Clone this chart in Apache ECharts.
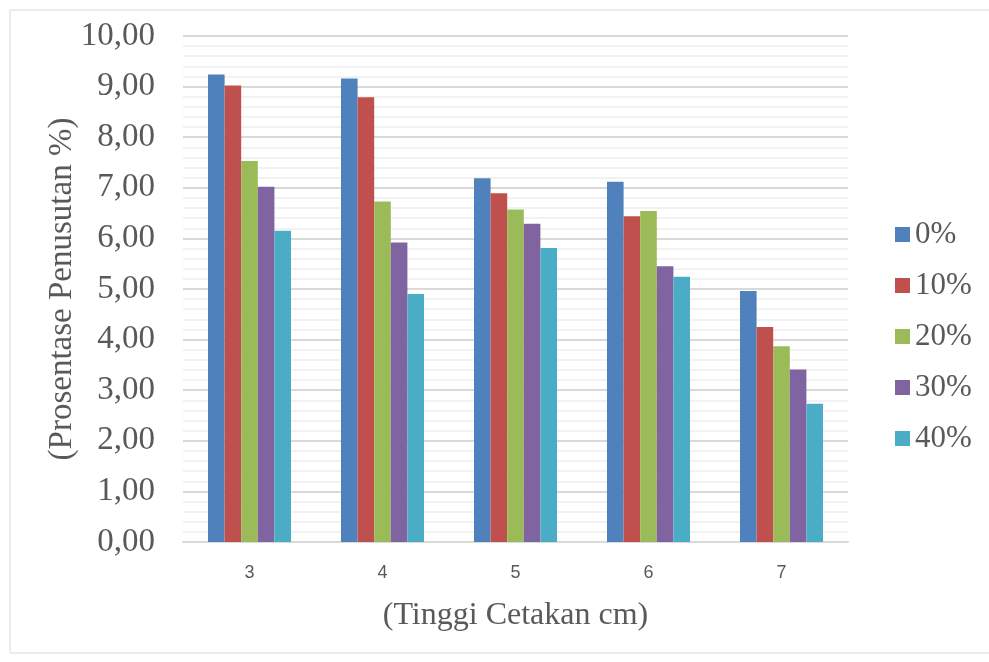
<!DOCTYPE html>
<html>
<head>
<meta charset="utf-8">
<script src="https://cdn.jsdelivr.net/npm/echarts@6/dist/echarts.min.js"></script>
<style>
html, body { margin: 0; padding: 0; background: #fff; }
#chart { width: 989px; height: 662px; }
</style>
</head>
<body>
<div id="chart"></div>
<script>
var categories = ['3', '4', '5', '6', '7'];
var seriesNames = ['0%', '10%', '20%', '30%', '40%'];
var values0 = [9.24, 9.16, 7.19, 7.12, 4.96];
var values10 = [9.02, 8.79, 6.89, 6.44, 4.25];
var values20 = [7.53, 6.73, 6.57, 6.54, 3.87];
var values30 = [7.02, 5.92, 6.29, 5.45, 3.41];
var values40 = [6.15, 4.90, 5.81, 5.24, 2.73];
var colors = ['#4F81BD', '#C0504D', '#9BBB59', '#8064A2', '#4BACC6'];

var chart = echarts.init(document.getElementById('chart'));
var allValues = [values0, values10, values20, values30, values40];
var series = [];
for (var i = 0; i < seriesNames.length; i++) {
	series.push({
		name: seriesNames[i],
		type: 'bar',
		data: allValues[i],
		barWidth: 16.6,
		barGap: '0%',
		itemStyle: { color: colors[i] }
	});
}

var option = {
	animation: false,
	color: colors,
	graphic: [{
		type: 'rect',
		shape: { x: 10, y: 10, width: 1000, height: 643 },
		style: { fill: 'none', stroke: '#d9d9d9', lineWidth: 1 },
		silent: true
	}],
	grid: { left: 183, right: 141, top: 36, bottom: 120 },
	legend: {
		orient: 'vertical',
		left: 890,
		top: 214,
		itemWidth: 15,
		itemHeight: 15,
		itemGap: 20,
		icon: 'rect',
		textStyle: { fontFamily: 'Liberation Serif', fontSize: 31, lineHeight: 31, color: '#595959' },
		data: seriesNames
	},
	xAxis: {
		type: 'category',
		data: categories,
		name: '(Tinggi Cetakan cm)',
		nameLocation: 'middle',
		nameGap: 58,
		nameMoveOverlap: false,
		nameTextStyle: { fontFamily: 'Liberation Serif', fontSize: 32, color: '#595959' },
		axisLine: { lineStyle: { color: '#d9d9d9', width: 2 } },
		axisTick: { show: false },
		axisLabel: { fontFamily: 'Liberation Sans', fontSize: 18, color: '#595959', margin: 22 }
	},
	yAxis: {
		type: 'value',
		min: 0,
		max: 10,
		interval: 1,
		name: '(Prosentase Penusutan %)',
		nameLocation: 'middle',
		nameGap: 104,
		nameMoveOverlap: false,
		nameTextStyle: { fontFamily: 'Liberation Serif', fontSize: 33, color: '#595959' },
		axisLine: { show: false },
		axisTick: { show: false },
		axisLabel: {
			fontFamily: 'Liberation Serif',
			fontSize: 33,
			color: '#595959',
			margin: 28,
			formatter: function (v) { return v.toFixed(2).replace('.', ','); }
		},
		splitLine: { lineStyle: { color: '#d9d9d9', width: 2 } },
		minorTick: { show: false, splitNumber: 5 },
		minorSplitLine: { show: true, lineStyle: { color: '#f2f2f2', width: 2 } }
	},
	series: series
};
chart.setOption(option);
</script>
</body>
</html>
